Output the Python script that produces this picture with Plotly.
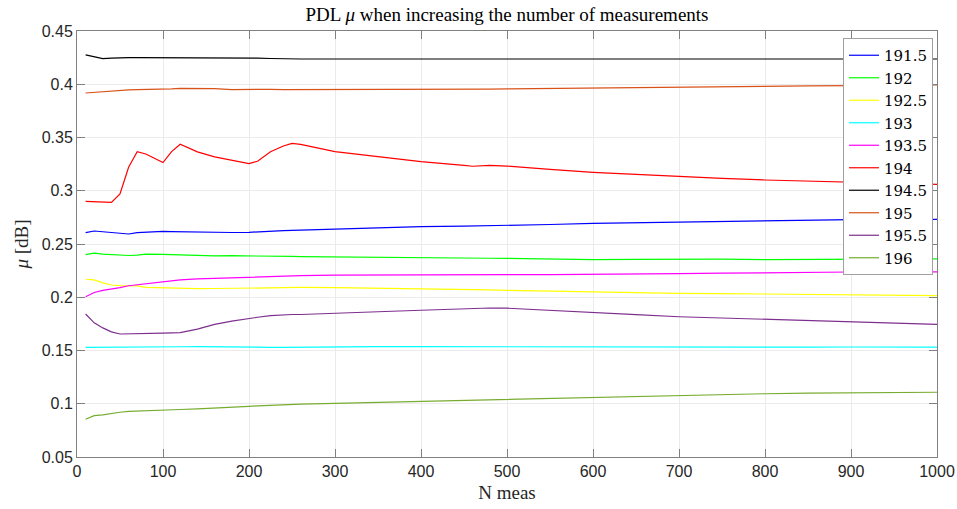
import plotly.graph_objects as go

# ---- data ----
n_meas = [10, 20, 30, 40, 50, 60, 70, 80, 100, 110, 120, 140, 160, 180, 200, 210, 225, 240, 250, 260,
          300, 350, 400, 450, 460, 480, 500, 550, 600, 650, 700, 750, 800, 850, 900, 950, 1000]

mu_191_5 = [0.2606, 0.2622, 0.2615, 0.2606, 0.2598, 0.2594, 0.2606, 0.2612, 0.2619, 0.2617, 0.2615, 0.2612,
            0.2606, 0.2608, 0.2610, 0.2612, 0.2620, 0.2625, 0.2628, 0.2630, 0.2645, 0.2652, 0.2663, 0.2668,
            0.2669, 0.2670, 0.2672, 0.2683, 0.2694, 0.2700, 0.2707, 0.2715, 0.2722, 0.2725, 0.2728, 0.2730, 0.2732]
mu_192 = [0.2400, 0.2415, 0.2405, 0.2400, 0.2398, 0.2392, 0.2395, 0.2405, 0.2403, 0.2400, 0.2398, 0.2396,
          0.2388, 0.2390, 0.2390, 0.2390, 0.2388, 0.2385, 0.2383, 0.2382, 0.2378, 0.2372, 0.2369, 0.2368,
          0.2367, 0.2366, 0.2365, 0.2358, 0.2353, 0.2355, 0.2360, 0.2358, 0.2353, 0.2355, 0.2358, 0.2360, 0.2360]
mu_192_5 = [0.2169, 0.2163, 0.2135, 0.2115, 0.2109, 0.2110, 0.2106, 0.2092, 0.2086, 0.2084, 0.2083, 0.2081,
            0.2082, 0.2085, 0.2088, 0.2090, 0.2093, 0.2094, 0.2093, 0.2092, 0.2090, 0.2086, 0.2082, 0.2075,
            0.2073, 0.2069, 0.2065, 0.2057, 0.2049, 0.2043, 0.2037, 0.2034, 0.2031, 0.2028, 0.2024, 0.2020, 0.2015]
mu_193 = [0.1530, 0.1530, 0.1530, 0.1528, 0.1529, 0.1530, 0.1530, 0.1531, 0.1532, 0.1533, 0.1535, 0.1537,
          0.1534, 0.1532, 0.1532, 0.1531, 0.1530, 0.1530, 0.1531, 0.1532, 0.1533, 0.1537, 0.1536, 0.1535,
          0.1534, 0.1533, 0.1533, 0.1532, 0.1532, 0.1532, 0.1532, 0.1532, 0.1532, 0.1532, 0.1533, 0.1532, 0.1532]
mu_193_5 = [0.2005, 0.2045, 0.2065, 0.2075, 0.2090, 0.2108, 0.2118, 0.2126, 0.2148, 0.2155, 0.2163, 0.2172,
            0.2178, 0.2184, 0.2190, 0.2192, 0.2197, 0.2200, 0.2202, 0.2203, 0.2207, 0.2210, 0.2212, 0.2212,
            0.2212, 0.2212, 0.2212, 0.2212, 0.2213, 0.2215, 0.2221, 0.2226, 0.2231, 0.2234, 0.2237, 0.2238, 0.2238]
mu_194 = [0.2900, 0.2895, 0.2890, 0.2890, 0.2970, 0.3220, 0.3367, 0.3345, 0.3265, 0.3367, 0.3436, 0.3365,
          0.3318, 0.3289, 0.3255, 0.3277, 0.3367, 0.3420, 0.3445, 0.3435, 0.3367, 0.3320, 0.3273, 0.3238,
          0.3230, 0.3238, 0.3232, 0.3201, 0.3173, 0.3153, 0.3132, 0.3117, 0.3101, 0.3090, 0.3077, 0.3068, 0.3060]
mu_194_5 = [0.4275, 0.4260, 0.4240, 0.4245, 0.4250, 0.4250, 0.4250, 0.4250, 0.4250, 0.4248, 0.4247, 0.4248,
            0.4247, 0.4249, 0.4248, 0.4246, 0.4242, 0.4238, 0.4237, 0.4237, 0.4237, 0.4237, 0.4237, 0.4237,
            0.4237, 0.4237, 0.4237, 0.4237, 0.4237, 0.4237, 0.4237, 0.4237, 0.4237, 0.4237, 0.4237, 0.4237, 0.4237]
mu_195 = [0.3918, 0.3925, 0.3930, 0.3937, 0.3945, 0.3948, 0.3950, 0.3950, 0.3955, 0.3957, 0.3962, 0.3962,
          0.3958, 0.3950, 0.3953, 0.3955, 0.3952, 0.3949, 0.3949, 0.3949, 0.3949, 0.3949, 0.3950, 0.3952,
          0.3953, 0.3955, 0.3957, 0.3962, 0.3966, 0.3970, 0.3974, 0.3978, 0.3982, 0.3985, 0.3988, 0.3990, 0.3993]
mu_195_5 = [0.1843, 0.1760, 0.1712, 0.1675, 0.1655, 0.1658, 0.1660, 0.1661, 0.1663, 0.1665, 0.1668, 0.1700,
            0.1745, 0.1775, 0.1802, 0.1812, 0.1828, 0.1838, 0.1838, 0.1838, 0.1852, 0.1864, 0.1878, 0.1893,
            0.1896, 0.1899, 0.1897, 0.1875, 0.1855, 0.1836, 0.1817, 0.1805, 0.1793, 0.1780, 0.1768, 0.1755, 0.1745]
mu_196 = [0.0854, 0.0888, 0.0895, 0.0910, 0.0920, 0.0929, 0.0933, 0.0936, 0.0941, 0.0943, 0.0946, 0.0951,
          0.0957, 0.0966, 0.0976, 0.0980, 0.0985, 0.0992, 0.0995, 0.0997, 0.1004, 0.1013, 0.1024, 0.1033,
          0.1036, 0.1040, 0.1044, 0.1052, 0.1061, 0.1067, 0.1073, 0.1083, 0.1094, 0.1099, 0.1104, 0.1106, 0.1108]

series_names = ["191.5", "192", "192.5", "193", "193.5", "194", "194.5", "195", "195.5", "196"]
series_values = [mu_191_5, mu_192, mu_192_5, mu_193, mu_193_5, mu_194, mu_194_5, mu_195, mu_195_5, mu_196]
series_colors = ["#0000FF", "#00FF00", "#FFFF00", "#00FFFF", "#FF00FF", "#FF0000", "#000000",
                 "#D95319", "#7E2F8E", "#77AC30"]

y_tickvals = [0.05, 0.1, 0.15, 0.2, 0.25, 0.3, 0.35, 0.4, 0.45]
y_ticktext = ["0.05", "0.1", "0.15", "0.2", "0.25", "0.3", "0.35", "0.4", "0.45"]
x_tickvals = [0, 100, 200, 300, 400, 500, 600, 700, 800, 900, 1000]

fig = go.Figure()
for name, vals, col in zip(series_names, series_values, series_colors):
    fig.add_trace(go.Scatter(x=n_meas, y=vals, mode="lines", name=name,
                             line=dict(color=col, width=1.2)))

serif = "Liberation Serif, DejaVu Serif, serif"
sans = "Liberation Sans, Arial, sans-serif"
axis_common = dict(showline=True, linecolor="#808080", linewidth=1, mirror="ticks",
                   ticks="inside", ticklen=8, tickcolor="#808080", showgrid=True,
                   gridcolor="#EBEBEB", zeroline=False,
                   tickfont=dict(family=sans, size=16, color="#262626"))

fig.update_layout(
    width=957, height=509,
    margin=dict(l=77, r=20, t=31, b=52, autoexpand=False),
    paper_bgcolor="white", plot_bgcolor="white",
    title=dict(text="PDL <i>μ</i> when increasing the number of measurements",
               x=(77 + 937) / 2 / 957, xanchor="center", y=1 - 14 / 509, yanchor="middle",
               font=dict(family=serif, size=19, color="#000000")),
    xaxis=dict(range=[0, 1000], tickvals=x_tickvals,
               title=dict(text="N meas", font=dict(family=serif, size=19, color="#262626"), standoff=6),
               **axis_common),
    yaxis=dict(range=[0.05, 0.45], tickvals=y_tickvals, ticktext=y_ticktext,
               title=dict(text="<i>μ</i> [dB]", font=dict(family=serif, size=19, color="#262626"), standoff=8),
               **axis_common),
    legend=dict(x=(843 - 77) / 860, xanchor="left", y=1 - 7 / 426, yanchor="top",
                bgcolor="white", bordercolor="#A0A0A0", borderwidth=1,
                font=dict(family="DejaVu Serif, serif", size=15, color="#000000"),
                itemwidth=30, tracegroupgap=0),
    showlegend=True,
)

fig.write_html("out.html")
